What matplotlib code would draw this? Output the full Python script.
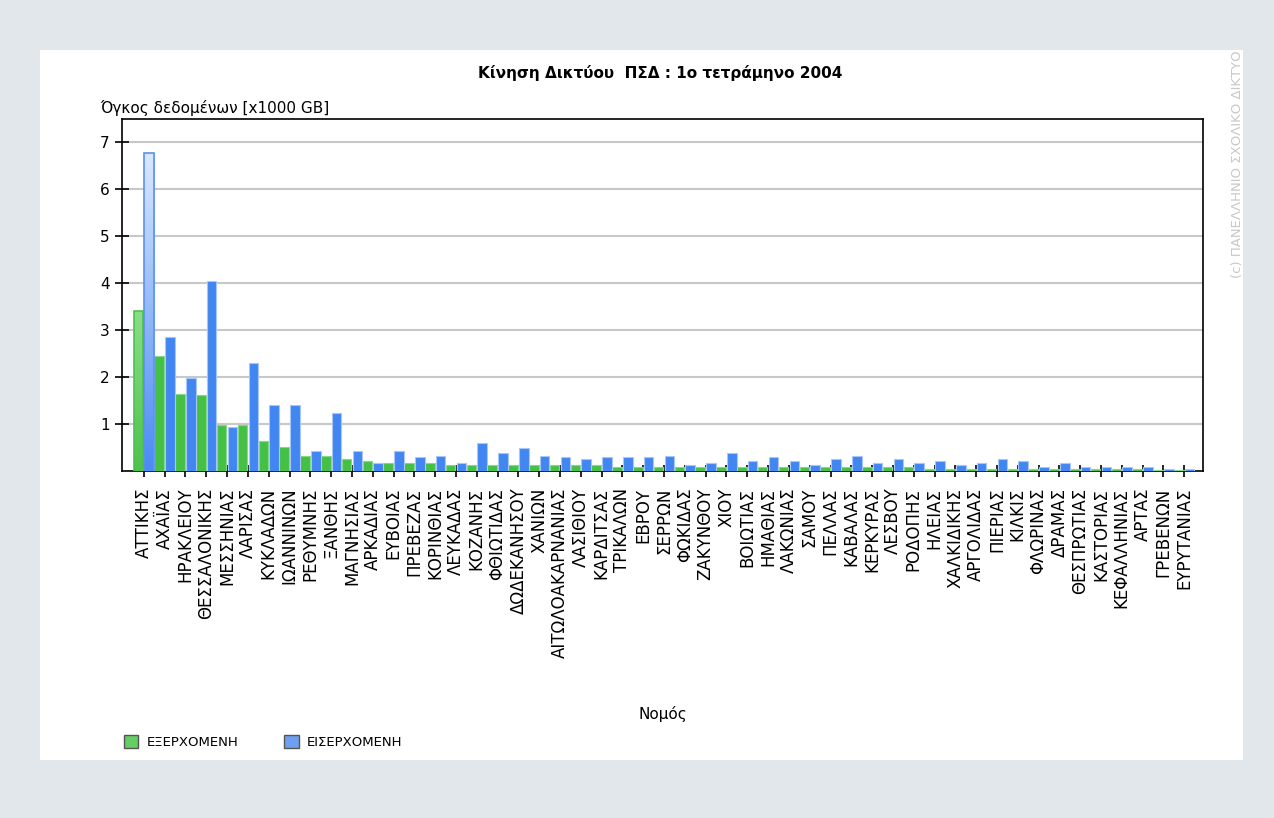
import numpy as np
import matplotlib
matplotlib.use("Agg")
import matplotlib.pyplot as plt
from matplotlib.patches import Rectangle, Patch
from matplotlib.colors import LinearSegmentedColormap

# Νομοί (με τη σειρά του γραφήματος)
nomoi = ["ΑΤΤΙΚΗΣ", "ΑΧΑΪΑΣ", "ΗΡΑΚΛΕΙΟΥ", "ΘΕΣΣΑΛΟΝΙΚΗΣ", "ΜΕΣΣΗΝΙΑΣ", "ΛΑΡΙΣΑΣ",
         "ΚΥΚΛΑΔΩΝ", "ΙΩΑΝΝΙΝΩΝ", "ΡΕΘΥΜΝΗΣ", "ΞΑΝΘΗΣ", "ΜΑΓΝΗΣΙΑΣ", "ΑΡΚΑΔΙΑΣ",
         "ΕΥΒΟΙΑΣ", "ΠΡΕΒΕΖΑΣ", "ΚΟΡΙΝΘΙΑΣ", "ΛΕΥΚΑΔΑΣ", "ΚΟΖΑΝΗΣ", "ΦΘΙΩΤΙΔΑΣ",
         "ΔΩΔΕΚΑΝΗΣΟΥ", "ΧΑΝΙΩΝ", "ΑΙΤΩΛΟΑΚΑΡΝΑΝΙΑΣ", "ΛΑΣΙΘΙΟΥ", "ΚΑΡΔΙΤΣΑΣ",
         "ΤΡΙΚΑΛΩΝ", "ΕΒΡΟΥ", "ΣΕΡΡΩΝ", "ΦΩΚΙΔΑΣ", "ΖΑΚΥΝΘΟΥ", "ΧΙΟΥ", "ΒΟΙΩΤΙΑΣ",
         "ΗΜΑΘΙΑΣ", "ΛΑΚΩΝΙΑΣ", "ΣΑΜΟΥ", "ΠΕΛΛΑΣ", "ΚΑΒΑΛΑΣ", "ΚΕΡΚΥΡΑΣ", "ΛΕΣΒΟΥ",
         "ΡΟΔΟΠΗΣ", "ΗΛΕΙΑΣ", "ΧΑΛΚΙΔΙΚΗΣ", "ΑΡΓΟΛΙΔΑΣ", "ΠΙΕΡΙΑΣ", "ΚΙΛΚΙΣ",
         "ΦΛΩΡΙΝΑΣ", "ΔΡΑΜΑΣ", "ΘΕΣΠΡΩΤΙΑΣ", "ΚΑΣΤΟΡΙΑΣ", "ΚΕΦΑΛΛΗΝΙΑΣ", "ΑΡΤΑΣ",
         "ΓΡΕΒΕΝΩΝ", "ΕΥΡΥΤΑΝΙΑΣ"]

# Εξερχόμενη κίνηση [x1000 GB]
exerx = [3.40, 2.46, 1.65, 1.62, 0.99, 0.98, 0.63, 0.51, 0.33, 0.33, 0.25, 0.21,
         0.16, 0.16, 0.16, 0.12, 0.12, 0.12, 0.12, 0.12, 0.12, 0.12, 0.12, 0.08,
         0.08, 0.08, 0.08, 0.08, 0.08, 0.08, 0.08, 0.08, 0.08, 0.08, 0.08, 0.08,
         0.08, 0.08, 0.04, 0.04, 0.04, 0.04, 0.04, 0.04, 0.04, 0.04, 0.04, 0.04,
         0.04, 0.03, 0.03]

# Εισερχόμενη κίνηση [x1000 GB]
eiserx = [6.77, 2.85, 1.99, 4.04, 0.93, 2.30, 1.40, 1.40, 0.43, 1.23, 0.43, 0.17,
          0.43, 0.29, 0.33, 0.16, 0.59, 0.38, 0.50, 0.33, 0.29, 0.25, 0.29, 0.29,
          0.29, 0.33, 0.12, 0.16, 0.38, 0.21, 0.29, 0.21, 0.12, 0.25, 0.33, 0.16,
          0.25, 0.16, 0.21, 0.12, 0.16, 0.25, 0.21, 0.08, 0.16, 0.08, 0.08, 0.08,
          0.08, 0.04, 0.04]

green = "#44c044"
blue = "#4286f2"

fig = plt.figure(figsize=(12.74, 8.18), dpi=100, facecolor="#e2e7ec")
fig.add_artist(Rectangle((40 / 1274, 1 - 760 / 818), 1203 / 1274, 710 / 818,
                         transform=fig.transFigure, facecolor="white",
                         edgecolor="none", zorder=-10))

ax = fig.add_axes([122 / 1274, 1 - 471 / 818, 1081 / 1274, 352 / 818])
x = np.arange(len(nomoi))
w = 0.46
b1 = ax.bar(x - 0.26, exerx, w, color=green, edgecolor="#86d886", linewidth=0.8, zorder=3)
b2 = ax.bar(x + 0.26, eiserx, w, color=blue, edgecolor="#a8c6f8", linewidth=0.8, zorder=3)

# ΑΤΤΙΚΗ με διαβάθμιση χρώματος
for bar, c_top, c_bot in [(b1[0], "#8ade8a", "#4cc24c"), (b2[0], "#dbe8fd", "#4a8af2")]:
    cm = LinearSegmentedColormap.from_list("g", [c_bot, c_top])
    bx, by = bar.get_x(), bar.get_y()
    bw, bh = bar.get_width(), bar.get_height()
    grad = np.linspace(0, 1, 256).reshape(-1, 1)
    im = ax.imshow(grad, cmap=cm, origin="lower", aspect="auto",
                   extent=(bx, bx + bw, by, by + bh), zorder=3.5)
    im.set_clip_path(bar)
    ax.add_patch(Rectangle((bx, by), bw, bh, fill=False,
                           edgecolor="#5a92f0" if bar in b2 else "#4cc24c",
                           linewidth=1.2, zorder=4))

ax.set_xlim(-1.05, 50.9)
ax.set_ylim(0, 7.5)
ax.set_yticks(range(1, 8))
ax.tick_params(axis="y", direction="inout", length=10, width=1.2, labelsize=11, pad=4)
ax.tick_params(axis="x", direction="inout", length=8, width=1.2, pad=8)
ax.set_xticks(x, nomoi, rotation=90, fontsize=12)
ax.grid(axis="y", color="#c8c8c8", linewidth=1.5, zorder=0)
ax.set_axisbelow(True)
for s in ax.spines.values():
    s.set_linewidth(1.2)

fig.text(660 / 1274, 1 - 73 / 818, "Κίνηση Δικτύου  ΠΣΔ : 1ο τετράμηνο 2004",
         ha="center", va="center", fontsize=11, fontweight="bold")
fig.text(100 / 1274, 1 - 108 / 818, "Όγκος δεδομένων [x1000 GB]",
         ha="left", va="center", fontsize=11)
fig.text(663 / 1274, 1 - 714 / 818, "Νομός", ha="center", va="center", fontsize=11)
fig.text(1237 / 1274, 1 - 50 / 818, "(c) ΠΑΝΕΛΛΗΝΙΟ ΣΧΟΛΙΚΟ ΔΙΚΤΥΟ", rotation=90,
         ha="center", va="top", fontsize=9.5, color="#c8c8c8")

handles = [Patch(facecolor="#66cc66", edgecolor="#555555", label="ΕΞΕΡΧΟΜΕΝΗ"),
           Patch(facecolor="#6f9ff0", edgecolor="#555555", label="ΕΙΣΕΡΧΟΜΕΝΗ")]
fig.legend(handles=handles, loc="center left", bbox_to_anchor=(112 / 1274, 1 - 742 / 818),
           ncol=2, frameon=False, fontsize=9.5, handlelength=1.1, handleheight=1.1,
           handletextpad=0.6, columnspacing=3.5)

fig.savefig("out.png", dpi=100, facecolor=fig.get_facecolor())
